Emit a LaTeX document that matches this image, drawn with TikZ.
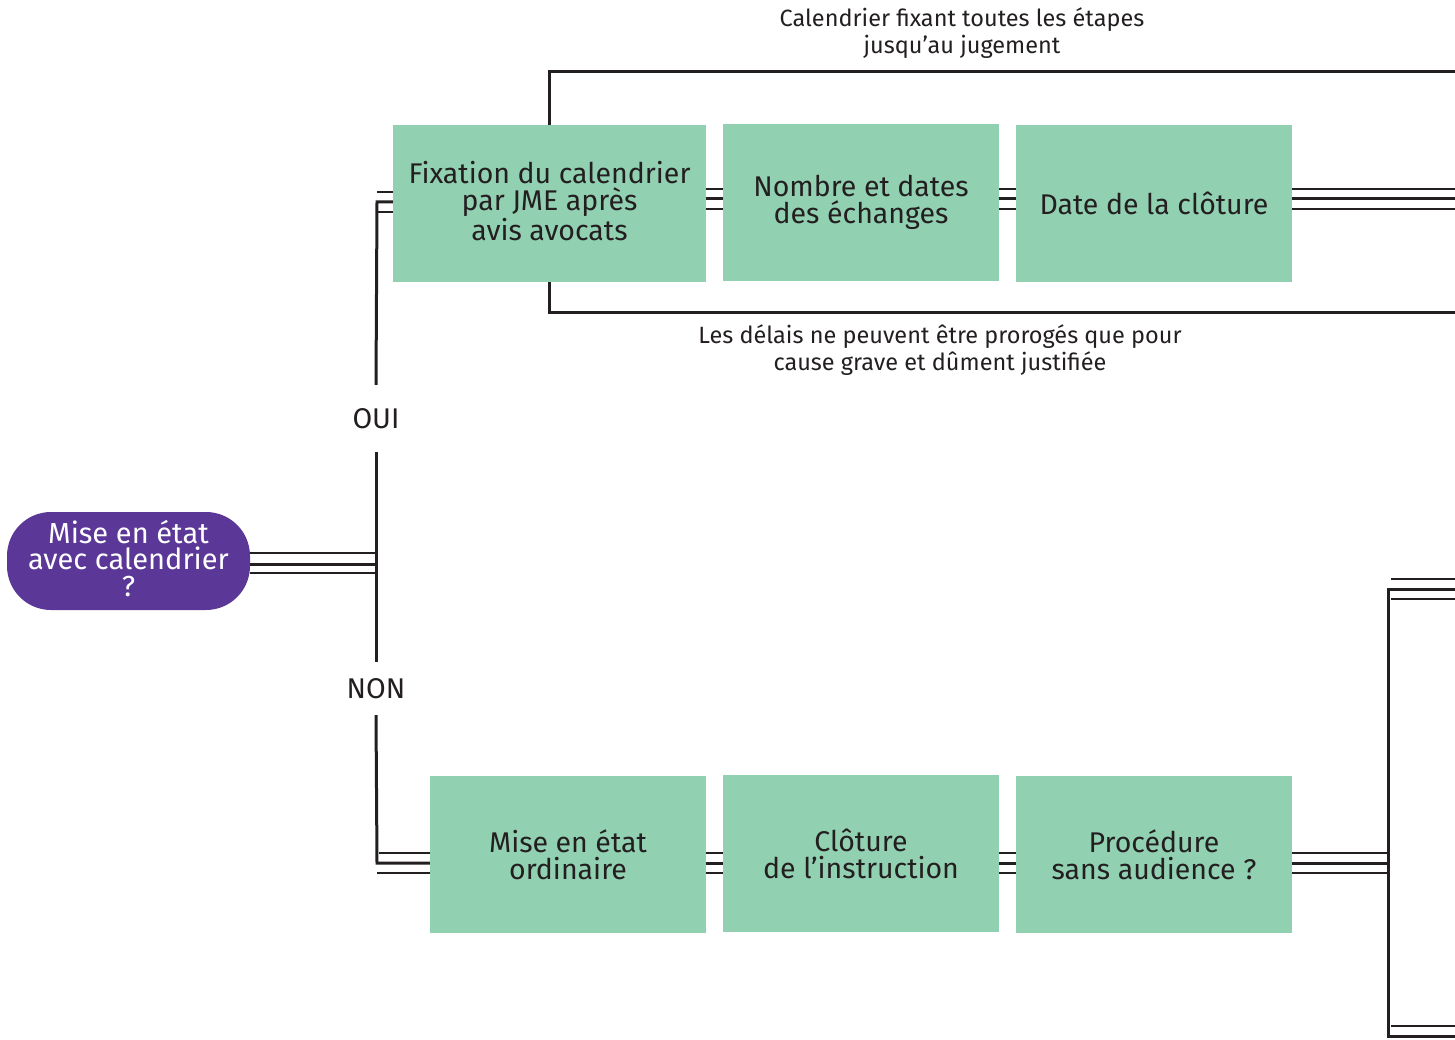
\documentclass[tikz,border=0pt]{standalone}
\usepackage{fontspec}
\setmainfont{Fira Sans}
\definecolor{boxgreen}{RGB}{146,208,178}
\definecolor{pillpurple}{RGB}{91,56,151}
\definecolor{ink}{RGB}{35,31,32}
\begin{document}
\begin{tikzpicture}[x=1pt,y=-1pt,
  stepbox/.style={fill=boxgreen, draw=none, minimum width=276pt, minimum height=157pt,
    align=center, inner sep=0pt, font=\fontsize{28.5}{27}\selectfont, text=ink},
  pill/.style={fill=pillpurple, draw=none, rounded corners=44pt, minimum width=243pt,
    minimum height=98pt, align=center, inner sep=0pt, text=white, text depth=6pt,
    font=\fontsize{29}{26.5}\selectfont},
  note/.style={align=center, inner sep=0pt, text=ink, font=\fontsize{23.5}{27}\selectfont},
  choice/.style={inner sep=0pt, text=ink, font=\fontsize{28.5}{28}\selectfont},
  heavy/.style={draw=ink, line width=3pt},
  light/.style={draw=ink, line width=1.3pt}]
\useasboundingbox (0,0) rectangle (1455,1040);

% decision
\node[pill] (q) at (128.5,561) {Mise en état\\avec calendrier\\?};

% upper row: scheduled procedure
\node[stepbox, minimum width=313pt, text depth=5pt] (fix) at (549.5,203.5) {Fixation du calendrier\\par JME après\\avis avocats};
\node[stepbox] (ech) at (861,202.5) {Nombre et dates\\des échanges};
\node[stepbox] (clo) at (1154,203.5) {Date de la clôture};

% lower row: ordinary procedure
\node[stepbox] (ord) at (568,854.5) {Mise en état\\ordinaire};
\node[stepbox] (ins) at (861,853.5) {Clôture\\de l’instruction};
\node[stepbox] (sans) at (1154,854.5) {Procédure\\sans audience ?};

% branch labels
\node[choice, minimum height=67pt] (oui) at (376,418.5) {OUI};
\node[choice, minimum height=53pt] (non) at (376,688.5) {NON};

% notes
\node[note] (cal) at (962,33) {Calendrier fixant toutes les étapes\\jusqu’au jugement};
\node[note] (del) at (940,350) {Les délais ne peuvent être prorogés que pour\\cause grave et dûment justifiée};

% helper points
\coordinate (vT) at (377,202);
\coordinate (vM) at (377,564);
\coordinate (vB) at (377,863);
\coordinate (eT) at (1455,199);
\coordinate (rV) at (1388,863);
\coordinate (rTop) at (1388,589);
\coordinate (rBot) at (1388,1036);
\coordinate (eR1) at (1455,589);
\coordinate (eR2) at (1455,1036);
\coordinate (brT) at (549,72);
\coordinate (brB) at (549,313);
\coordinate (eBrT) at (1455,72);
\coordinate (eBrB) at (1455,313);

% decision to the branch line
\draw[light] ([yshift=11pt]q.east |- vM) -- ([yshift=11pt]vM);
\draw[heavy] (q.east |- vM) -- (vM);
\draw[light] ([yshift=-9pt]q.east |- vM) -- ([yshift=-9pt]vM);

% branch line with its labels
\draw[heavy] (fix.west |- vT) -- (vT) -- (oui.north);
\draw[heavy] (oui.south) -- (non.north);
\draw[heavy] (non.south) -- (vB) -- (ord.west |- vB);
\draw[light] ([yshift=10pt]vT) -- ([yshift=10pt]fix.west |- vT);
\draw[light] ([yshift=-10pt]vT) -- ([yshift=-10pt]fix.west |- vT);
\draw[light] ([yshift=10pt,xshift=1.5pt]vB) -- ([yshift=10pt]ord.west |- vB);
\draw[light] ([yshift=-10pt]vB) -- ([yshift=-10pt]ord.west |- vB);

% upper row links
\foreach \a/\b in {fix/ech, ech/clo} {
  \draw[heavy] (\a.east |- eT) -- (\b.west |- eT);
  \draw[light] ([yshift=10pt]\a.east |- eT) -- ([yshift=10pt]\b.west |- eT);
  \draw[light] ([yshift=-10pt]\a.east |- eT) -- ([yshift=-10pt]\b.west |- eT);
}
\draw[heavy] (clo.east |- eT) -- (eT);
\draw[light] ([yshift=10pt]clo.east |- eT) -- ([yshift=10pt]eT);
\draw[light] ([yshift=-10pt]clo.east |- eT) -- ([yshift=-10pt]eT);

% lower row links
\foreach \a/\b in {ord/ins, ins/sans} {
  \draw[heavy] (\a.east |- rV) -- (\b.west |- rV);
  \draw[light] ([yshift=10pt]\a.east |- rV) -- ([yshift=10pt]\b.west |- rV);
  \draw[light] ([yshift=-10pt]\a.east |- rV) -- ([yshift=-10pt]\b.west |- rV);
}
\draw[heavy] (sans.east |- rV) -- ([xshift=1.5pt]rV);
\draw[light] ([yshift=10pt]sans.east |- rV) -- ([yshift=10pt]rV);
\draw[light] ([yshift=-10pt]sans.east |- rV) -- ([yshift=-10pt]rV);

% right-hand collector
\draw[heavy] (eR1) -- (rTop) -- (rBot) -- (eR2);
\draw[light] ([yshift=10pt,xshift=3pt]rTop) -- ([yshift=10pt]eR1);
\draw[light] ([yshift=-10pt,xshift=3pt]rTop) -- ([yshift=-10pt]eR1);
\draw[light] ([yshift=10pt,xshift=3pt]rBot) -- ([yshift=10pt]eR2);

% brackets round the schedule
\draw[heavy] (fix.north -| brT) -- (brT) -- (eBrT);
\draw[heavy] (fix.south -| brB) -- (brB) -- (eBrB);
\end{tikzpicture}
\end{document}
